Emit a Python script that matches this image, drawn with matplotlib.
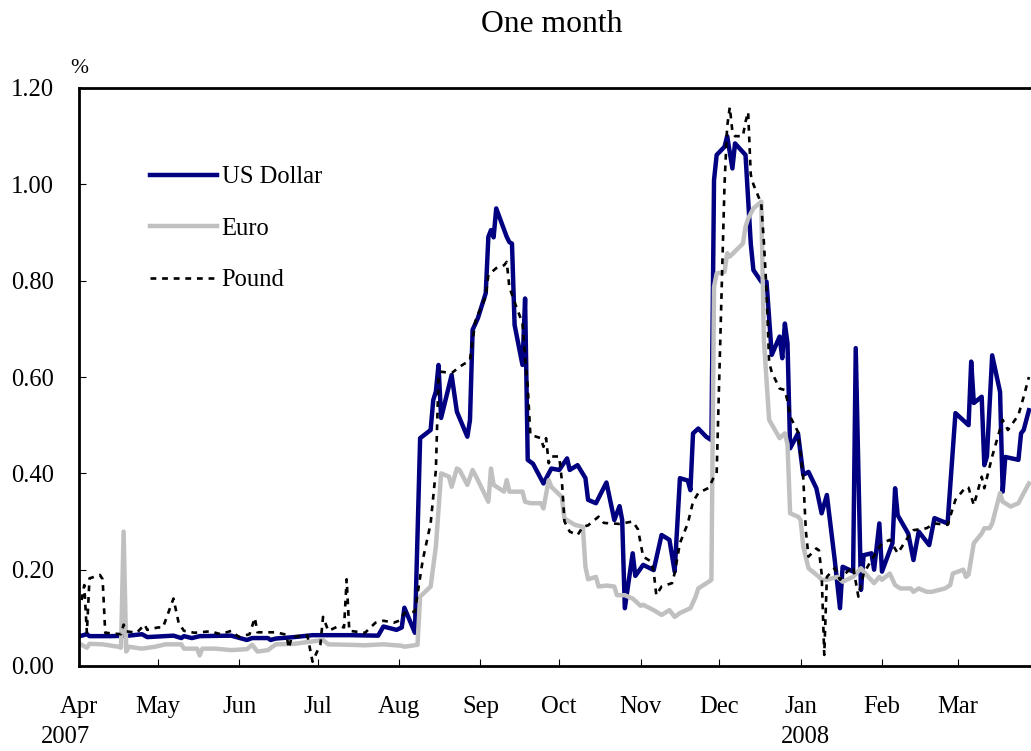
import matplotlib
matplotlib.use("Agg")
import matplotlib.pyplot as plt
import matplotlib.dates as mdates
import pandas as pd
from datetime import datetime

plt.rcParams['font.family'] = ['Liberation Serif', 'DejaVu Serif']

# One-month interbank rates, % (daily observations)
usd_dates = ["2007-04-02", "2007-04-04", "2007-04-05", "2007-04-13", "2007-04-20", "2007-04-25", "2007-04-27",
             "2007-05-07", "2007-05-10", "2007-05-11", "2007-05-14", "2007-05-17", "2007-05-29", "2007-05-31",
             "2007-06-04", "2007-06-06", "2007-06-12", "2007-06-13", "2007-06-15", "2007-06-22", "2007-06-29",
             "2007-07-06", "2007-07-13", "2007-07-24", "2007-07-26", "2007-07-31", "2007-08-02", "2007-08-03",
             "2007-08-07", "2007-08-09", "2007-08-13", "2007-08-14", "2007-08-15", "2007-08-16", "2007-08-17",
             "2007-08-21", "2007-08-23", "2007-08-27", "2007-08-28", "2007-08-29", "2007-08-31", "2007-09-03",
             "2007-09-04", "2007-09-05", "2007-09-06", "2007-09-07", "2007-09-11", "2007-09-12", "2007-09-13",
             "2007-09-14", "2007-09-17", "2007-09-18", "2007-09-19", "2007-09-21", "2007-09-25", "2007-09-28",
             "2007-10-01", "2007-10-04", "2007-10-05", "2007-10-08", "2007-10-11", "2007-10-12", "2007-10-15",
             "2007-10-19", "2007-10-22", "2007-10-24", "2007-10-25", "2007-10-26", "2007-10-29", "2007-10-30",
             "2007-11-02", "2007-11-06", "2007-11-09", "2007-11-12", "2007-11-14", "2007-11-16", "2007-11-19",
             "2007-11-20", "2007-11-21", "2007-11-23", "2007-11-26", "2007-11-28", "2007-11-29", "2007-11-30",
             "2007-12-03", "2007-12-04", "2007-12-06", "2007-12-07", "2007-12-11", "2007-12-13", "2007-12-14",
             "2007-12-17", "2007-12-19", "2007-12-21", "2007-12-24", "2007-12-25", "2007-12-26", "2007-12-27",
             "2007-12-28", "2007-12-31", "2008-01-02", "2008-01-04", "2008-01-07", "2008-01-09", "2008-01-11",
             "2008-01-14", "2008-01-16", "2008-01-17", "2008-01-21", "2008-01-22", "2008-01-24", "2008-01-25",
             "2008-01-28", "2008-01-29", "2008-01-31", "2008-02-01", "2008-02-05", "2008-02-06", "2008-02-07",
             "2008-02-11", "2008-02-13", "2008-02-15", "2008-02-19", "2008-02-21", "2008-02-26", "2008-02-29",
             "2008-03-05", "2008-03-06", "2008-03-07", "2008-03-10", "2008-03-11", "2008-03-12", "2008-03-14",
             "2008-03-17", "2008-03-18", "2008-03-19", "2008-03-24", "2008-03-25", "2008-03-26", "2008-03-28"]
usd_vals = [0.063, 0.066, 0.062, 0.062, 0.063, 0.066, 0.060,
            0.063, 0.058, 0.062, 0.058, 0.062, 0.063, 0.060,
            0.054, 0.058, 0.058, 0.054, 0.057, 0.060, 0.064,
            0.064, 0.064, 0.063, 0.082, 0.075, 0.080, 0.121,
            0.069, 0.473, 0.490, 0.552, 0.570, 0.625, 0.515,
            0.604, 0.528, 0.476, 0.511, 0.698, 0.722, 0.774,
            0.891, 0.905, 0.890, 0.950, 0.891, 0.880, 0.877,
            0.708, 0.625, 0.763, 0.428, 0.420, 0.379, 0.410,
            0.407, 0.431, 0.407, 0.417, 0.390, 0.345, 0.338,
            0.381, 0.303, 0.332, 0.303, 0.120, 0.234, 0.187,
            0.210, 0.199, 0.272, 0.262, 0.196, 0.390, 0.385,
            0.365, 0.483, 0.493, 0.476, 0.469, 1.009, 1.061,
            1.078, 1.100, 1.033, 1.085, 1.061, 0.877, 0.822,
            0.798, 0.798, 0.646, 0.684, 0.639, 0.711, 0.670,
            0.452, 0.483, 0.397, 0.403, 0.369, 0.317, 0.355,
            0.220, 0.120, 0.206, 0.196, 0.660, 0.158, 0.230,
            0.234, 0.200, 0.296, 0.196, 0.255, 0.369, 0.313,
            0.275, 0.220, 0.279, 0.251, 0.307, 0.296, 0.525,
            0.500, 0.632, 0.546, 0.559, 0.417, 0.435, 0.645,
            0.569, 0.362, 0.434, 0.428, 0.483, 0.490, 0.531]

eur_dates = ["2007-04-02", "2007-04-04", "2007-04-05", "2007-04-10", "2007-04-16", "2007-04-17", "2007-04-18",
             "2007-04-19", "2007-04-20", "2007-04-25", "2007-04-30", "2007-05-04", "2007-05-10", "2007-05-11",
             "2007-05-16", "2007-05-17", "2007-05-18", "2007-05-23", "2007-05-29", "2007-06-04", "2007-06-06",
             "2007-06-08", "2007-06-12", "2007-06-15", "2007-06-22", "2007-06-29", "2007-07-03", "2007-07-05",
             "2007-07-13", "2007-07-19", "2007-07-26", "2007-08-02", "2007-08-03", "2007-08-08", "2007-08-09",
             "2007-08-13", "2007-08-15", "2007-08-17", "2007-08-20", "2007-08-21", "2007-08-23", "2007-08-24",
             "2007-08-27", "2007-08-29", "2007-08-31", "2007-09-04", "2007-09-05", "2007-09-06", "2007-09-10",
             "2007-09-11", "2007-09-12", "2007-09-17", "2007-09-18", "2007-09-20", "2007-09-24", "2007-09-25",
             "2007-09-27", "2007-09-28", "2007-10-02", "2007-10-03", "2007-10-07", "2007-10-10", "2007-10-11",
             "2007-10-12", "2007-10-15", "2007-10-16", "2007-10-19", "2007-10-22", "2007-10-23", "2007-10-26",
             "2007-10-29", "2007-11-01", "2007-11-02", "2007-11-06", "2007-11-09", "2007-11-12", "2007-11-14",
             "2007-11-16", "2007-11-20", "2007-11-22", "2007-11-23", "2007-11-27", "2007-11-28", "2007-11-29",
             "2007-11-30", "2007-12-03", "2007-12-04", "2007-12-05", "2007-12-10", "2007-12-11", "2007-12-12",
             "2007-12-14", "2007-12-17", "2007-12-18", "2007-12-19", "2007-12-20", "2007-12-24", "2007-12-26",
             "2007-12-27", "2007-12-28", "2007-12-31", "2008-01-01", "2008-01-02", "2008-01-04", "2008-01-08",
             "2008-01-09", "2008-01-11", "2008-01-15", "2008-01-17", "2008-01-21", "2008-01-24", "2008-01-25",
             "2008-01-29", "2008-01-31", "2008-02-01", "2008-02-04", "2008-02-06", "2008-02-08", "2008-02-12",
             "2008-02-13", "2008-02-15", "2008-02-18", "2008-02-20", "2008-02-25", "2008-02-27", "2008-02-28",
             "2008-03-03", "2008-03-04", "2008-03-05", "2008-03-07", "2008-03-10", "2008-03-11", "2008-03-13",
             "2008-03-14", "2008-03-17", "2008-03-18", "2008-03-19", "2008-03-21", "2008-03-24", "2008-03-26",
             "2008-03-28"]
eur_vals = [0.044, 0.038, 0.046, 0.045, 0.040, 0.038, 0.279,
            0.030, 0.040, 0.036, 0.040, 0.045, 0.045, 0.036,
            0.036, 0.022, 0.036, 0.036, 0.033, 0.035, 0.044,
            0.030, 0.033, 0.045, 0.046, 0.051, 0.054, 0.045,
            0.044, 0.043, 0.045, 0.042, 0.040, 0.044, 0.144,
            0.165, 0.248, 0.400, 0.393, 0.372, 0.410, 0.407,
            0.376, 0.407, 0.386, 0.341, 0.410, 0.376, 0.362,
            0.386, 0.362, 0.362, 0.341, 0.338, 0.338, 0.327,
            0.386, 0.372, 0.351, 0.306, 0.293, 0.289, 0.206,
            0.180, 0.185, 0.165, 0.167, 0.165, 0.147, 0.147,
            0.140, 0.125, 0.127, 0.116, 0.106, 0.116, 0.102,
            0.110, 0.120, 0.144, 0.161, 0.175, 0.179, 0.787,
            0.815, 0.818, 0.857, 0.850, 0.877, 0.912, 0.929,
            0.950, 0.964, 0.677, 0.594, 0.511, 0.473, 0.483,
            0.460, 0.317, 0.310, 0.303, 0.248, 0.203, 0.185,
            0.179, 0.179, 0.185, 0.175, 0.185, 0.203, 0.196,
            0.172, 0.185, 0.179, 0.192, 0.168, 0.161, 0.161,
            0.154, 0.161, 0.154, 0.154, 0.161, 0.168, 0.192,
            0.200, 0.185, 0.190, 0.255, 0.275, 0.286, 0.286,
            0.296, 0.359, 0.341, 0.338, 0.331, 0.338, 0.359,
            0.379]

gbp_dates = ["2007-04-02", "2007-04-03", "2007-04-04", "2007-04-05", "2007-04-09", "2007-04-10", "2007-04-11",
             "2007-04-17", "2007-04-18", "2007-04-19", "2007-04-23", "2007-04-26", "2007-04-27", "2007-05-01",
             "2007-05-03", "2007-05-07", "2007-05-09", "2007-05-11", "2007-05-15", "2007-05-21", "2007-05-25",
             "2007-05-29", "2007-06-01", "2007-06-05", "2007-06-07", "2007-06-08", "2007-06-15", "2007-06-19",
             "2007-06-20", "2007-06-21", "2007-06-27", "2007-06-29", "2007-07-02", "2007-07-03", "2007-07-05",
             "2007-07-09", "2007-07-11", "2007-07-12", "2007-07-13", "2007-07-19", "2007-07-23", "2007-07-26",
             "2007-07-30", "2007-08-01", "2007-08-03", "2007-08-07", "2007-08-10", "2007-08-13", "2007-08-14",
             "2007-08-15", "2007-08-16", "2007-08-17", "2007-08-21", "2007-08-24", "2007-08-28", "2007-08-30",
             "2007-08-31", "2007-09-03", "2007-09-04", "2007-09-07", "2007-09-10", "2007-09-11", "2007-09-12",
             "2007-09-14", "2007-09-17", "2007-09-18", "2007-09-19", "2007-09-20", "2007-09-24", "2007-09-25",
             "2007-09-26", "2007-09-27", "2007-09-28", "2007-10-01", "2007-10-02", "2007-10-03", "2007-10-05",
             "2007-10-08", "2007-10-10", "2007-10-12", "2007-10-16", "2007-10-18", "2007-10-24", "2007-10-29",
             "2007-10-31", "2007-11-01", "2007-11-02", "2007-11-05", "2007-11-06", "2007-11-07", "2007-11-09",
             "2007-11-13", "2007-11-14", "2007-11-16", "2007-11-19", "2007-11-21", "2007-11-23", "2007-11-27",
             "2007-11-29", "2007-11-30", "2007-12-03", "2007-12-04", "2007-12-05", "2007-12-06", "2007-12-07",
             "2007-12-10", "2007-12-11", "2007-12-12", "2007-12-13", "2007-12-14", "2007-12-17", "2007-12-18",
             "2007-12-19", "2007-12-20", "2007-12-21", "2007-12-24", "2007-12-26", "2007-12-27", "2007-12-28",
             "2007-12-31", "2008-01-02", "2008-01-03", "2008-01-04", "2008-01-07", "2008-01-08", "2008-01-09",
             "2008-01-10", "2008-01-11", "2008-01-14", "2008-01-16", "2008-01-18", "2008-01-21", "2008-01-23",
             "2008-01-25", "2008-01-28", "2008-02-01", "2008-02-04", "2008-02-07", "2008-02-11", "2008-02-13",
             "2008-02-18", "2008-02-21", "2008-02-26", "2008-02-29", "2008-03-04", "2008-03-05", "2008-03-07",
             "2008-03-10", "2008-03-11", "2008-03-14", "2008-03-18", "2008-03-20", "2008-03-24", "2008-03-26",
             "2008-03-28"]
gbp_vals = [0.137, 0.168, 0.069, 0.182, 0.189, 0.180, 0.069,
            0.066, 0.086, 0.072, 0.069, 0.086, 0.075, 0.080,
            0.080, 0.140, 0.089, 0.073, 0.069, 0.072, 0.066,
            0.073, 0.060, 0.066, 0.100, 0.070, 0.070, 0.065,
            0.037, 0.060, 0.064, 0.009, 0.045, 0.102, 0.073,
            0.083, 0.080, 0.180, 0.073, 0.069, 0.090, 0.094,
            0.090, 0.094, 0.110, 0.113, 0.220, 0.296, 0.351,
            0.407, 0.600, 0.611, 0.608, 0.621, 0.635, 0.715,
            0.729, 0.767, 0.812, 0.826, 0.832, 0.839, 0.787,
            0.755, 0.712, 0.642, 0.580, 0.480, 0.473, 0.455,
            0.473, 0.421, 0.435, 0.435, 0.386, 0.300, 0.279,
            0.272, 0.289, 0.292, 0.310, 0.297, 0.295, 0.300,
            0.284, 0.255, 0.227, 0.217, 0.196, 0.147, 0.165,
            0.172, 0.193, 0.255, 0.296, 0.341, 0.359, 0.370,
            0.393, 0.400, 1.000, 1.120, 1.160, 1.110, 1.100,
            1.100, 1.130, 1.150, 1.020, 1.000, 0.960, 0.880,
            0.780, 0.630, 0.610, 0.576, 0.573, 0.550, 0.518,
            0.486, 0.390, 0.280, 0.227, 0.244, 0.240, 0.192,
            0.023, 0.185, 0.203, 0.179, 0.192, 0.206, 0.144,
            0.192, 0.220, 0.255, 0.262, 0.234, 0.268, 0.282,
            0.286, 0.296, 0.293, 0.345, 0.372, 0.370, 0.334,
            0.393, 0.369, 0.435, 0.511, 0.490, 0.521, 0.559,
            0.600]

series_labels = ["US Dollar", "Euro", "Pound"]
y_ticks = [0.0, 0.2, 0.4, 0.6, 0.8, 1.0, 1.2]

fig = plt.figure(figsize=(10.31, 7.51), dpi=100)
ax = fig.add_axes([79 / 1031, 85 / 751, 952 / 1031, 578 / 751])

ax.plot(pd.to_datetime(usd_dates), usd_vals, color="#000080", lw=3.2,
        label=series_labels[0])
ax.plot(pd.to_datetime(eur_dates), eur_vals, color="#c0c0c0", lw=3.2,
        label=series_labels[1])
ax.plot(pd.to_datetime(gbp_dates), gbp_vals, color="black", lw=1.9,
        linestyle=(0, (2.2, 2.2)), label=series_labels[2])

ax.set_xlim(datetime(2007, 4, 1), datetime(2008, 3, 28, 19))
ax.set_ylim(0, 1.2)
ax.set_yticks(y_ticks)
ax.yaxis.set_major_formatter(plt.FuncFormatter(lambda v, p: f"{v:.2f}"))
ax.xaxis.set_major_locator(mdates.MonthLocator())
ax.xaxis.set_major_formatter(mdates.DateFormatter("%b"))

for side in ("left", "top", "bottom"):
    ax.spines[side].set_linewidth(2.0)
ax.spines["right"].set_visible(False)

ax.tick_params(axis="both", direction="in", length=5, width=0.8,
               labelsize=17.7)
ax.tick_params(axis="y", pad=18)
ax.tick_params(axis="x", pad=21.5)

# Year markers under the first month of each year
for year_text, year_start, dx in (("2007", datetime(2007, 4, 1), -10),
                                  ("2008", datetime(2008, 1, 1), 3.6)):
    ax.annotate(year_text, xy=(mdates.date2num(year_start), 0),
                xycoords=ax.get_xaxis_transform(),
                xytext=(dx, -55.5), textcoords="offset points", ha="center",
                va="baseline", fontsize=17.7, annotation_clip=False)

ax.annotate("%", xy=(0, 1), xycoords="axes fraction", xytext=(0, 14),
            textcoords="offset points", ha="center", va="center", fontsize=15.5)

fig.text(552 / 1031, 1 - 24 / 751, "One month", ha="center", va="center",
         fontsize=22.8)

ax.legend(loc="upper left", bbox_to_anchor=(0.0746, 0.865), frameon=False,
          borderpad=0, borderaxespad=0, handlelength=2.72, handletextpad=0.2,
          labelspacing=1.19, fontsize=17.7)

fig.savefig("out.png", dpi=100)
